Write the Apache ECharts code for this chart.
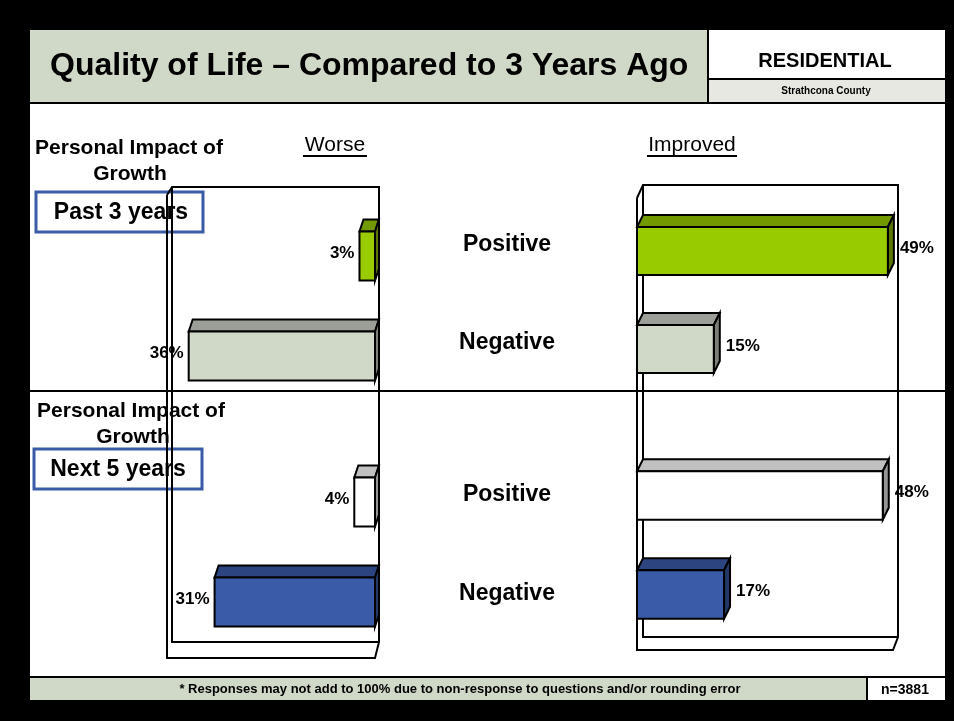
<!DOCTYPE html>
<html>
<head>
<meta charset="utf-8">
<script src="https://cdn.jsdelivr.net/npm/echarts@6/dist/echarts.min.js"></script>
<style>
    html, body { margin: 0; padding: 0; background: #000; }
    #chart { width: 954px; height: 721px; }
</style>
</head>
<body>
<div id="chart"></div>
<script>
// 数据
const periods = ['Past 3 years', 'Next 5 years'];
const impacts = ['Positive', 'Negative'];
const worse = [[3, 36], [4, 31]];      // 变差
const improved = [[49, 15], [48, 17]]; // 改善

// 每个柱子的三个面颜色（正面 / 顶面 / 侧面）
const faces = [
    [{ front: '#99CC00', top: '#739900', side: '#5A7800' }, { front: '#D0D8C8', top: '#9C9F97', side: '#7D8078' }],
    [{ front: '#FFFFFF', top: '#C0C0C0', side: '#969696' }, { front: '#3A5BA8', top: '#2C4580', side: '#223866' }]
];

(function () {
    const my_echart = echarts.init(document.getElementById('chart'));
    const font = "'Liberation Sans', Arial, sans-serif";

    // 画一个3D柱子（正面+顶面+侧面+标签）
    function bar3d(p, dx, dy, side) {
        return function (params, api) {
            const v = api.value(0), c = api.value(1);
            const base = api.coord([0, c]);
            const end = api.coord([v, c]);
            const h = api.size([0, 1])[1] * 0.49;
            const x0 = Math.min(base[0], end[0]), x1 = Math.max(base[0], end[0]);
            const yt = base[1] - h / 2, yb = base[1] + h / 2;
            const col = faces[p][c];
            const line = { stroke: '#000', lineWidth: 2 };
            return {
                type: 'group',
                children: [
                    { type: 'polygon', shape: { points: [[x0, yt], [x0 + dx, yt - dy], [x1 + dx, yt - dy], [x1, yt]] },
                      style: Object.assign({ fill: col.top }, line) },
                    { type: 'polygon', shape: { points: [[x1, yt], [x1 + dx, yt - dy], [x1 + dx, yb - dy], [x1, yb]] },
                      style: Object.assign({ fill: col.side }, line) },
                    { type: 'rect', shape: { x: x0, y: yt, width: x1 - x0, height: h },
                      style: Object.assign({ fill: col.front }, line) },
                    { type: 'text', z2: 10,
                      style: {
                          text: v + '%',
                          x: side === 'left' ? x0 - 5 : x1 + dx + 6,
                          y: base[1] - 3,
                          align: side === 'left' ? 'right' : 'left',
                          verticalAlign: 'middle',
                          font: 'bold 17px ' + font,
                          fill: '#000'
                      } }
                ]
            };
        };
    }

    const grids = [
        { left: 168, width: 207, top: 206, height: 200 }, // 左上
        { left: 637, width: 256, top: 202, height: 196 }, // 右上
        { left: 168, width: 207, top: 452, height: 200 }, // 左下
        { left: 637, width: 256, top: 446, height: 198 }  // 右下
    ];
    const xAxes = [], yAxes = [], series = [];
    grids.forEach(function (g, k) {
        const p = k < 2 ? 0 : 1;
        const isLeft = k % 2 === 0;
        xAxes.push({
            type: 'value', gridIndex: k, min: 0, max: isLeft ? 40 : 50, inverse: isLeft,
            show: false
        });
        yAxes.push({
            type: 'category', gridIndex: k, data: impacts, inverse: true,
            axisLine: { show: false }, axisTick: { show: false }, splitLine: { show: false },
            axisLabel: {
                show: !isLeft,
                align: 'center',
                verticalAlign: 'bottom',
                lineHeight: p === 0 ? 13 : 1,
                margin: 130,
                fontFamily: font, fontWeight: 'bold', fontSize: 23, color: '#000'
            }
        });
        const vals = isLeft ? worse[p] : improved[p];
        series.push({
            type: 'custom',
            xAxisIndex: k, yAxisIndex: k,
            z: 5,
            renderItem: bar3d(p, isLeft ? 4 : 6, 12, isLeft ? 'left' : 'right'),
            data: vals.map(function (v, i) { return [v, i]; })
        });
    });

    const black = { stroke: '#000', lineWidth: 2, fill: null };
    function pl(points, z) {
        return { type: 'polyline', z: z || 3, shape: { points: points }, style: black };
    }
    function txt(t, x, y, size, weight, align, z) {
        return { type: 'text', z: z || 4, style: {
            text: t, x: x, y: y, align: align || 'center', verticalAlign: 'middle',
            font: (weight || 'bold') + ' ' + size + 'px ' + font, fill: '#000' } };
    }

    const graphic = [
        // 白色底板
        { type: 'rect', z: 0, shape: { x: 30, y: 30, width: 915, height: 670 }, style: { fill: '#fff' } },
        // 标题栏
        { type: 'rect', z: 1, shape: { x: 30, y: 30, width: 678, height: 73 }, style: { fill: '#D0D8C8' } },
        { type: 'rect', z: 1, shape: { x: 708, y: 80, width: 237, height: 23 }, style: { fill: '#E8E8E3' } },
        pl([[30, 103], [945, 103]]),
        pl([[708, 30], [708, 103]]),
        pl([[708, 79], [945, 79]]),
        txt('Quality of Life – Compared to 3 Years Ago', 50, 66, 32, 'bold', 'left'),
        txt('RESIDENTIAL', 825, 61, 20),
        txt('Strathcona County', 826, 91, 10),
        // 底部说明
        { type: 'rect', z: 1, shape: { x: 30, y: 678, width: 837, height: 22 }, style: { fill: '#D0D8C8' } },
        pl([[30, 677], [945, 677]]),
        pl([[867, 677], [867, 700]]),
        txt('* Responses may not add to 100% due to non-response to questions and/or rounding error', 460, 689, 13),
        txt('n=3881', 905, 690, 14),
        // 分隔线
        pl([[30, 391], [945, 391]]),
        // 左侧框
        pl([[167, 195], [172, 187], [379, 187], [379, 642], [375, 658], [167, 658], [167, 195]]),
        pl([[172, 187], [172, 642], [379, 642]]),
        // 右侧框
        pl([[637, 198], [643, 185], [898, 185], [898, 637], [893, 650], [637, 650], [637, 198]]),
        pl([[643, 185], [643, 637], [898, 637]]),
        // 列标题
        txt('Worse', 335, 145, 21, 'normal'),
        pl([[303, 156], [367, 156]]),
        txt('Improved', 692, 145, 21, 'normal'),
        pl([[647, 156], [737, 156]]),
        // 左侧说明
        txt('Personal Impact of', 129, 148, 21),
        txt('Growth', 130, 174, 21),
        { type: 'rect', z: 2, shape: { x: 36, y: 192, width: 167, height: 40 }, style: { fill: null, stroke: '#3A5BA8', lineWidth: 3 } },
        txt(periods[0], 121, 213, 23, 'bold', 'center', 2),
        txt('Personal Impact of', 131, 411, 21),
        txt('Growth', 133, 437, 21),
        { type: 'rect', z: 2, shape: { x: 34, y: 449, width: 168, height: 40 }, style: { fill: null, stroke: '#3A5BA8', lineWidth: 3 } },
        txt(periods[1], 118, 470, 23, 'bold', 'center', 2)
    ];

    let option = {
        backgroundColor: '#000',
        animation: false,
        grid: grids,
        xAxis: xAxes,
        yAxis: yAxes,
        graphic: graphic,
        series: series
    };
    my_echart.setOption(option);
    window.addEventListener('resize', function () {
        my_echart.resize();
    });
})();
</script>
</body>
</html>
